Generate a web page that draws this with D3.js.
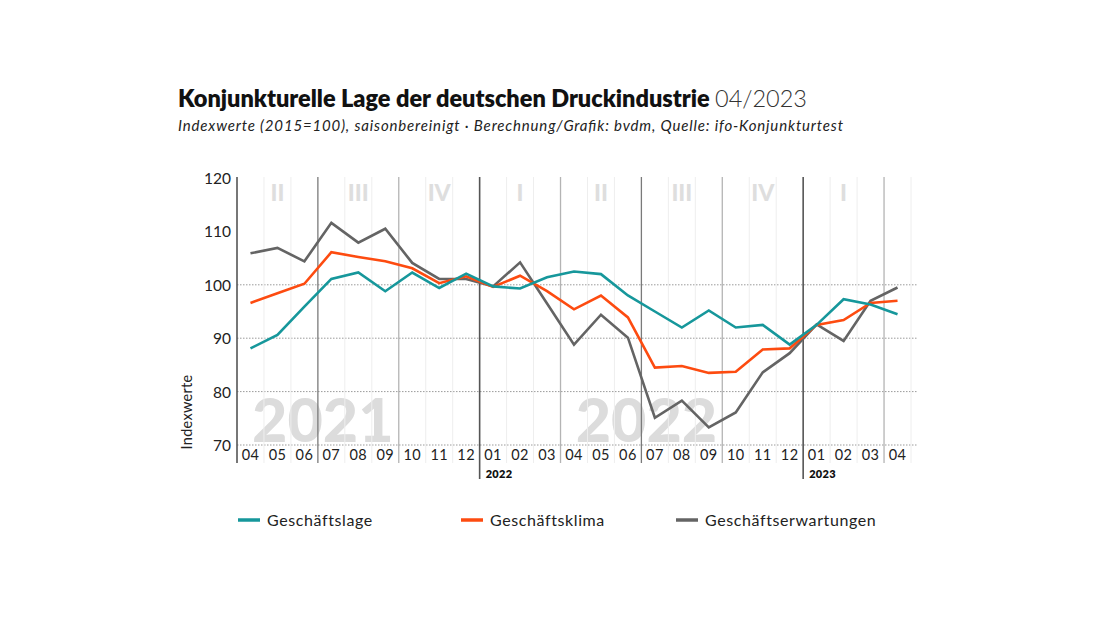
<!DOCTYPE html>
<html>
  <head>
    <meta charset="utf-8">
    <script src="https://d3js.org/d3.v7.min.js"></script>
    <style>
      body { margin: 0; background: #fff; }
      svg { display: block; font-family: Lato, "Open Sans", sans-serif; }
    </style>
  </head>
  <body>
    <svg width="1100" height="619"></svg>
    <script>
      const months = [
        "2021-04", "2021-05", "2021-06", "2021-07", "2021-08", "2021-09", "2021-10", "2021-11", "2021-12",
        "2022-01", "2022-02", "2022-03", "2022-04", "2022-05", "2022-06", "2022-07", "2022-08", "2022-09",
        "2022-10", "2022-11", "2022-12", "2023-01", "2023-02", "2023-03", "2023-04"
      ];
      const lage = [88.1, 90.6, 95.9, 101.1, 102.3, 98.8, 102.3, 99.4, 102.1,
        99.7, 99.3, 101.4, 102.5, 102.0, 98.0, 95.0, 92.0, 95.2, 92.0, 92.5, 88.8,
        92.5, 97.3, 96.3, 94.5];
      const klima = [96.6, 98.4, 100.2, 106.1, 105.2, 104.4, 103.1, 100.3, 101.6,
        99.6, 101.7, 98.8, 95.4, 98.0, 93.9, 84.5, 84.8, 83.5, 83.7, 87.9, 88.1,
        92.5, 93.4, 96.6, 97.0];
      const erwartungen = [105.9, 106.9, 104.4, 111.6, 107.9, 110.5, 104.1, 101.1, 101.1,
        99.7, 104.2, 96.5, 88.8, 94.4, 90.1, 75.1, 78.3, 73.3, 76.1, 83.6, 87.2,
        92.6, 89.5, 97.0, 99.5];
      const yTicks = [70, 80, 90, 100, 110, 120];
      const gridValues = [70, 80, 90, 100];
      const quarterNames = ["I", "II", "III", "IV"];
      const watermarkYears = ["2021", "2022"];

      const series = [
        { name: "Geschäftslage", values: lage, color: "#16979b" },
        { name: "Geschäftsklima", values: klima, color: "#fd4b10" },
        { name: "Geschäftserwartungen", values: erwartungen, color: "#646464" }
      ];

      const svg = d3.select("svg");
      const plotTop = 178, plotBottom = 445;

      const x = d3.scaleBand().domain(months).range([237, 911]).padding(0);
      const y = d3.scaleLinear().domain([70, 120]).range([plotBottom, plotTop]);
      const cx = m => x(m) + x.bandwidth() / 2;

      // title
      const title = svg.append("text").attr("x", 178).attr("y", 107)
        .attr("textLength", 629).attr("lengthAdjust", "spacing")
        .style("font-size", "23.5px").style("fill", "#111");
      title.append("tspan").style("font-weight", 800).text("Konjunkturelle Lage der deutschen Druckindustrie ");
      title.append("tspan").style("font-weight", 300).style("fill", "#333").text("04/2023");
      svg.append("text").attr("x", 178).attr("y", 131)
        .attr("textLength", 665).attr("lengthAdjust", "spacing")
        .style("font-size", "15px").style("font-style", "italic").style("fill", "#222")
        .text("Indexwerte (2015=100), saisonbereinigt · Berechnung/Grafik: bvdm, Quelle: ifo-Konjunkturtest");

      // year watermarks, placed at the July boundary
      svg.append("g").selectAll("text").data(watermarkYears).join("text")
        .attr("x", d => x(d + "-07") + 5)
        .attr("y", 442)
        .attr("text-anchor", "middle")
        .style("font-size", "61px").style("font-weight", 900).style("fill", "#dcdcdc")
        .text(d => d);

      // quarter labels (complete quarters only)
      const quarters = d3.groups(months, m => m.slice(0, 4) + "Q" + Math.ceil(+m.slice(5) / 3))
        .filter(d => d[1].length === 3);
      svg.append("g").selectAll("text").data(quarters).join("text")
        .attr("x", d => d3.mean(d[1], cx))
        .attr("y", 201)
        .attr("text-anchor", "middle")
        .style("font-size", "23px").style("font-weight", 900).style("fill", "#dedede")
        .text(d => quarterNames[+d[0].slice(-1) - 1]);

      // dotted grid
      svg.append("g").selectAll("line").data(gridValues).join("line")
        .attr("x1", 237).attr("x2", 918)
        .attr("y1", d => y(d)).attr("y2", d => y(d))
        .attr("stroke", "#9a9a9a").attr("stroke-width", 1).attr("stroke-dasharray", "1.5,1.5");

      // vertical separators
      const sep = svg.append("g");
      months.forEach((m, i) => {
        const mm = +m.slice(5);
        let color = "#eeeeee", y2 = 463, w = 1;
        if (mm === 1 || i === 0) { color = "#555"; y2 = i === 0 ? 463 : 479; w = 1.6; }
        else if (mm === 7) { color = "#7a7a7a"; w = 1.3; }
        else if (mm === 4 || mm === 10) { color = "#b4b4b4"; w = 1.3; }
        sep.append("line").attr("x1", x(m)).attr("x2", x(m))
          .attr("y1", plotTop - 1).attr("y2", y2)
          .attr("stroke", color).attr("stroke-width", w);
      });
      sep.append("line").attr("x1", x.range()[1]).attr("x2", x.range()[1])
        .attr("y1", plotTop - 1).attr("y2", 463).attr("stroke", "#eeeeee");

      // y axis labels
      const yAxis = svg.append("g").attr("transform", "translate(231,0)")
        .call(d3.axisLeft(y).tickValues(yTicks).tickSize(0).tickPadding(0));
      yAxis.select(".domain").remove();
      yAxis.selectAll("text").style("font-size", "15.5px").style("fill", "#222")
        .style("font-family", "Lato, sans-serif").attr("dy", "0.35em");

      svg.append("text").attr("transform", "translate(192,412) rotate(-90)")
        .attr("text-anchor", "middle").style("font-size", "14.5px").style("fill", "#222")
        .style("letter-spacing", "0.3px")
        .text("Indexwerte");

      // x axis labels
      const xAxis = svg.append("g").attr("transform", "translate(0,450)")
        .call(d3.axisBottom(x).tickSize(0).tickPadding(0).tickFormat(m => m.slice(5)));
      xAxis.select(".domain").remove();
      xAxis.selectAll("text").style("font-size", "14.5px").style("fill", "#222")
        .style("font-family", "Lato, sans-serif").style("letter-spacing", "0.4px");

      svg.append("g").selectAll("text").data(months.filter(m => m.endsWith("-01"))).join("text")
        .attr("x", m => x(m) + 6).attr("y", 478)
        .style("font-size", "11px").style("font-weight", 800).style("fill", "#111")
        .style("letter-spacing", "0.3px")
        .text(m => m.slice(0, 4));

      // lines
      const line = d3.line().x((v, i) => cx(months[i])).y(v => y(v));
      svg.append("g").selectAll("path").data(series.slice().reverse()).join("path")
        .attr("d", d => line(d.values))
        .attr("fill", "none").attr("stroke", d => d.color)
        .attr("stroke-width", 2.6).attr("stroke-linejoin", "miter");

      // legend
      const legendX = [238, 461, 676];
      const legend = svg.append("g").selectAll("g").data(series).join("g")
        .attr("transform", (d, i) => `translate(${legendX[i]},520)`);
      legend.append("line").attr("x1", 0).attr("x2", 22)
        .attr("stroke", d => d.color).attr("stroke-width", 3.5);
      legend.append("text").attr("x", 29).attr("dy", "0.35em")
        .style("font-size", "16px").style("fill", "#222").style("letter-spacing", "0.6px")
        .text(d => d.name);
    </script>
  </body>
</html>
